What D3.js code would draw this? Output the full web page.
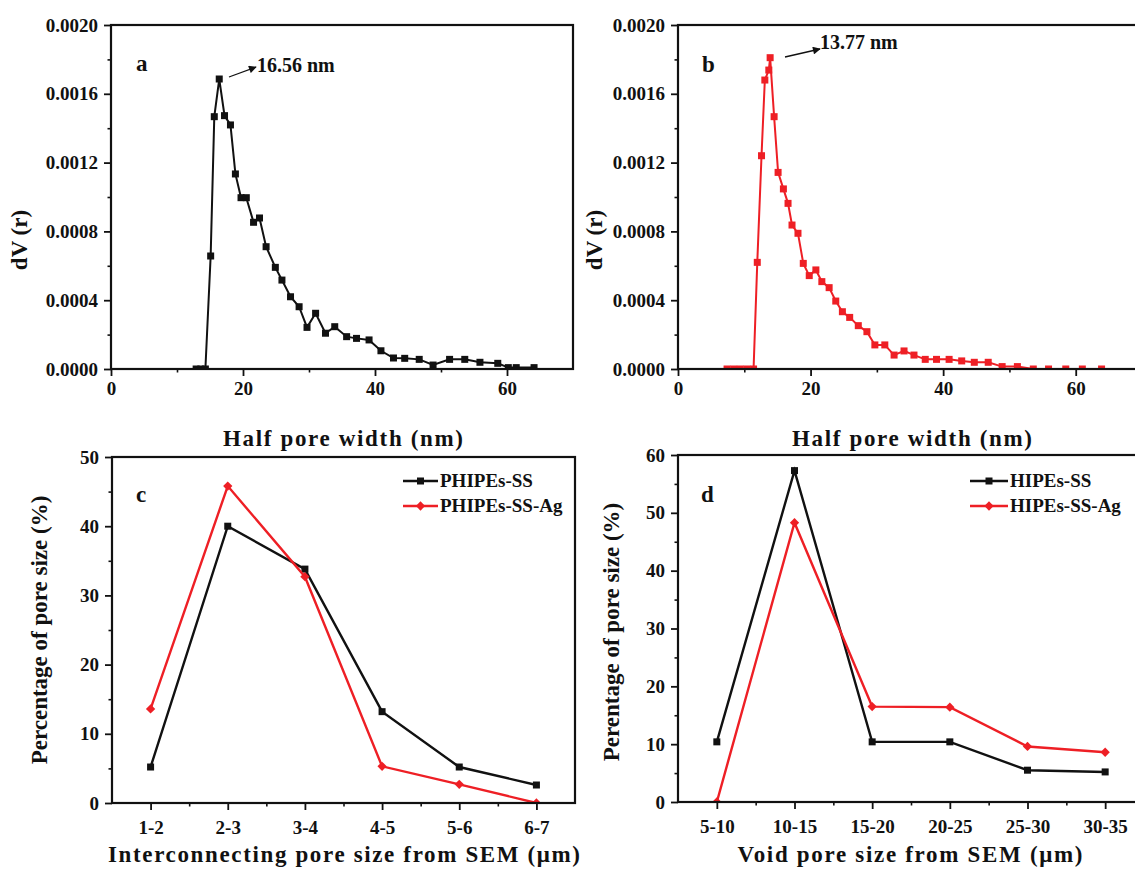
<!DOCTYPE html>
<html><head><meta charset="utf-8">
<script src="https://cdn.jsdelivr.net/npm/d3@7"></script>
<style>
body{margin:0;background:#fff}
svg text{font-family:"Liberation Serif","Times New Roman",serif;font-weight:bold;fill:#111}
</style>
</head><body>
<svg id="chart" width="1135" height="874"></svg>
<script>
// ---------- DATA ----------
const aX = [12.9,13.6,14.3,15.1,15.65,16.4,17.2,18.1,18.85,19.7,20.5,21.6,22.5,23.5,24.9,25.9,27.2,28.5,29.7,31.0,32.5,33.9,35.7,37.2,39.1,40.9,42.8,44.5,46.7,48.8,51.3,53.6,55.9,58.6,60.2,61.4,64.1];
const aY = [0,0,0,0.000657,0.001467,0.001686,0.001473,0.001419,0.001134,0.000996,0.000996,0.000853,0.000878,0.000711,0.000591,0.000517,0.000420,0.000362,0.000242,0.000324,0.000208,0.000246,0.000188,0.000178,0.000169,0.000106,0.000064,0.000062,0.000056,0.000023,0.000056,0.000056,0.000039,0.000033,0.000008,0.000008,0.000008];
const bX = [7.4,8.4,9.4,10.4,11.4,11.96,12.6,13.1,13.7,13.9,14.5,15.1,15.9,16.6,17.2,18.1,18.9,19.8,20.8,21.7,22.8,23.8,24.8,25.9,27.2,28.5,29.7,31.2,32.6,34.1,35.6,37.3,39.0,40.9,42.8,44.7,46.8,48.9,51.2,53.6,55.9,58.5,61.0,63.9];
const bY = [0,0,0,0,0,0.000620,0.001240,0.001680,0.001738,0.00181,0.001467,0.001143,0.001047,0.000963,0.000837,0.000789,0.000614,0.000543,0.000576,0.000508,0.000473,0.000395,0.000333,0.000300,0.000252,0.000217,0.000140,0.000140,0.000081,0.000105,0.000081,0.000056,0.000056,0.000056,0.000047,0.000039,0.000039,0.000014,0.000014,0,0,0,0,0];

const cCats = ["1-2","2-3","3-4","4-5","5-6","6-7"];
const cSS   = [5.2,40.0,33.8,13.2,5.2,2.6];
const cSSAg = [13.6,45.8,32.7,5.3,2.7,0];
const dCats = ["5-10","10-15","15-20","20-25","25-30","30-35"];
const dSS   = [10.4,57.3,10.4,10.4,5.5,5.2];
const dSSAg = [0,48.3,16.5,16.4,9.6,8.6];

const abYTicks = [0,0.0004,0.0008,0.0012,0.0016,0.0020];
const abXTicks = [0,20,40,60];
const cYTicks = [0,10,20,30,40,50];
const dYTicks = [0,10,20,30,40,50,60];

const RED = "#ee1f25", BLACK = "#111";

const svg = d3.select("#chart");
let clipId = 0;

function panel(o){
  const g = svg.append("g").attr("transform",`translate(${o.left},${o.top})`);
  const x = d3.scaleLinear().domain(o.xDomain).range([0,o.w]);
  const y = d3.scaleLinear().domain(o.yDomain).range([o.h,0]);
  const id = "clip"+(clipId++);
  g.append("clipPath").attr("id",id).append("rect").attr("width",o.w).attr("height",o.h);
  const plot = g.append("g").attr("clip-path",`url(#${id})`);

  o.series.forEach(s=>{
    const pts = s.x.map((v,i)=>[v,s.y[i]]);
    plot.append("path").datum(pts)
      .attr("fill","none").attr("stroke",s.color).attr("stroke-width",s.lw)
      .attr("d",d3.line().x(d=>x(d[0])).y(d=>y(d[1])));
    if(s.shape==="square"){
      plot.selectAll(null).data(pts).enter().append("rect")
        .attr("x",d=>x(d[0])-s.ms/2).attr("y",d=>y(d[1])-s.ms/2)
        .attr("width",s.ms).attr("height",s.ms).attr("fill",s.color);
    } else {
      const sym = d3.symbol().type(d3.symbolDiamond2).size(s.size);
      plot.selectAll(null).data(pts).enter().append("path")
        .attr("d",sym).attr("transform",d=>`translate(${x(d[0])},${y(d[1])})`)
        .attr("fill",s.color);
    }
  });

  // minor ticks
  g.append("g").attr("transform",`translate(0,${o.h})`)
    .call(d3.axisBottom(x).tickValues(o.xMinor).tickSize(3.5).tickFormat(""))
    .call(a=>{a.select(".domain").remove();a.selectAll("line").attr("stroke-width",1.6).attr("stroke",BLACK);});
  g.append("g")
    .call(d3.axisLeft(y).tickValues(o.yMinor).tickSize(3.5).tickFormat(""))
    .call(a=>{a.select(".domain").remove();a.selectAll("line").attr("stroke-width",1.6).attr("stroke",BLACK);});

  // major axes
  const xa = g.append("g").attr("transform",`translate(0,${o.h})`)
    .call(d3.axisBottom(x).tickValues(o.xTicks).tickSizeOuter(0).tickSize(7).tickPadding(o.xPad)
      .tickFormat(o.xFormat));
  const ya = g.append("g")
    .call(d3.axisLeft(y).tickValues(o.yTicks).tickSizeOuter(0).tickSize(7).tickPadding(6)
      .tickFormat(o.yFormat));
  [xa,ya].forEach(a=>{
    a.select(".domain").remove();
    a.selectAll("line").attr("stroke-width",1.8).attr("stroke",BLACK);
    a.selectAll("text").style("font-size",o.tickFont+"px").attr("fill",BLACK);
  });

  // frame
  g.append("rect").attr("width",o.w).attr("height",o.h)
    .attr("fill","none").attr("stroke",BLACK).attr("stroke-width",2.2);

  // titles
  const xt = svg.append("text").attr("x",o.xTitle[0]).attr("y",o.xTitle[1])
    .attr("text-anchor","middle").style("font-size","23px").text(o.xLabel);
  if(o.xTitle[2]) xt.attr("textLength",o.xTitle[2]).attr("lengthAdjust","spacing");
  svg.append("text").attr("transform",`translate(${o.yTitle[0]},${o.yTitle[1]}) rotate(-90)`)
    .attr("text-anchor","middle").style("font-size","23px").text(o.yLabel);
  svg.append("text").attr("x",o.letter[0]).attr("y",o.letter[1])
    .style("font-size","23px").text(o.letter[2]);
  return {g,x,y};
}

const fmt4 = d3.format(".4f");

// Panel a
panel({left:111,top:25,w:462,h:344,xDomain:[0,70],yDomain:[0,0.002],
  xTicks:abXTicks,xMinor:[10,30,50],yTicks:abYTicks,yMinor:[0.0002,0.0006,0.0010,0.0014,0.0018],
  xFormat:d3.format("d"),yFormat:fmt4,xPad:6,tickFont:19,
  series:[{x:aX,y:aY,color:BLACK,lw:2,shape:"square",ms:7}],
  xLabel:"Half pore width (nm)",yLabel:"dV (r)",xTitle:[343,446,240],yTitle:[27,240],letter:[136,71,"a"]});

// Panel b
panel({left:678,top:25,w:464,h:344,xDomain:[0,70],yDomain:[0,0.002],
  xTicks:abXTicks,xMinor:[10,30,50],yTicks:abYTicks,yMinor:[0.0002,0.0006,0.0010,0.0014,0.0018],
  xFormat:d3.format("d"),yFormat:fmt4,xPad:6,tickFont:19,
  series:[{x:bX,y:bY,color:RED,lw:2,shape:"square",ms:7}],
  xLabel:"Half pore width (nm)",yLabel:"dV (r)",xTitle:[912,446,240],yTitle:[602,240],letter:[702,72,"b"]});

// Panel c
const cIdx = cCats.map((_,i)=>i+1);
panel({left:112,top:457,w:463,h:346,xDomain:[0.5,6.5],yDomain:[0,50],
  xTicks:cIdx,xMinor:[1.5,2.5,3.5,4.5,5.5],yTicks:cYTicks,yMinor:[5,15,25,35,45],
  xFormat:(d)=>cCats[d-1],yFormat:d3.format("d"),xPad:11,tickFont:19,
  series:[{x:cIdx,y:cSS,color:BLACK,lw:2.4,shape:"square",ms:7},
          {x:cIdx,y:cSSAg,color:RED,lw:2.4,shape:"diamond",size:55}],
  xLabel:"Interconnecting pore size from SEM (\u03bcm)",yLabel:"Percentage of pore size (%)",
  xTitle:[344,862,472],yTitle:[47,630],letter:[136,502,"c"]});

// Panel d
const dIdx = dCats.map((_,i)=>i+1);
panel({left:678,top:455,w:466,h:347,xDomain:[0.5,6.5],yDomain:[0,60],
  xTicks:dIdx,xMinor:[1.5,2.5,3.5,4.5,5.5],yTicks:dYTicks,yMinor:[5,15,25,35,45,55],
  xFormat:(d)=>dCats[d-1],yFormat:d3.format("d"),xPad:11,tickFont:19,
  series:[{x:dIdx,y:dSS,color:BLACK,lw:2.4,shape:"square",ms:7},
          {x:dIdx,y:dSSAg,color:RED,lw:2.4,shape:"diamond",size:55}],
  xLabel:"Void pore size from SEM (\u03bcm)",yLabel:"Perentage of pore size (%)",
  xTitle:[910,862,345],yTitle:[619,632],letter:[701,502,"d"]});

// Legends
function legend(x0,x1,yy,labels,colors,shapes){
  labels.forEach((t,i)=>{
    const yv = yy+i*25;
    svg.append("line").attr("x1",x0).attr("x2",x1).attr("y1",yv).attr("y2",yv)
      .attr("stroke",colors[i]).attr("stroke-width",2.4);
    const mx=(x0+x1)/2;
    if(shapes[i]==="square") svg.append("rect").attr("x",mx-3.5).attr("y",yv-3.5).attr("width",7).attr("height",7).attr("fill",colors[i]);
    else svg.append("path").attr("d",d3.symbol().type(d3.symbolDiamond2).size(55)).attr("transform",`translate(${mx},${yv})`).attr("fill",colors[i]);
    svg.append("text").attr("x",x1+2).attr("y",yv+6).style("font-size","19px").text(t);
  });
}
legend(403,438,481,["PHIPEs-SS","PHIPEs-SS-Ag"],[BLACK,RED],["square","diamond"]);
legend(970,1008,481,["HIPEs-SS","HIPEs-SS-Ag"],[BLACK,RED],["square","diamond"]);

// Annotations
svg.append("defs").append("marker").attr("id","arr").attr("viewBox","0 0 10 10")
  .attr("refX",9).attr("refY",5).attr("markerWidth",7).attr("markerHeight",6).attr("orient","auto")
  .append("path").attr("d","M0,0L10,5L0,10z").attr("fill",BLACK);
svg.append("line").attr("x1",229).attr("y1",77).attr("x2",256).attr("y2",67)
  .attr("stroke",BLACK).attr("stroke-width",1.3).attr("marker-end","url(#arr)");
svg.append("text").attr("x",257).attr("y",72).style("font-size","20px").text("16.56 nm");
svg.append("line").attr("x1",785).attr("y1",57).attr("x2",820).attr("y2",49)
  .attr("stroke",BLACK).attr("stroke-width",1.3).attr("marker-end","url(#arr)");
svg.append("text").attr("x",820).attr("y",49).style("font-size","20px").text("13.77 nm");
</script>
</body></html>
